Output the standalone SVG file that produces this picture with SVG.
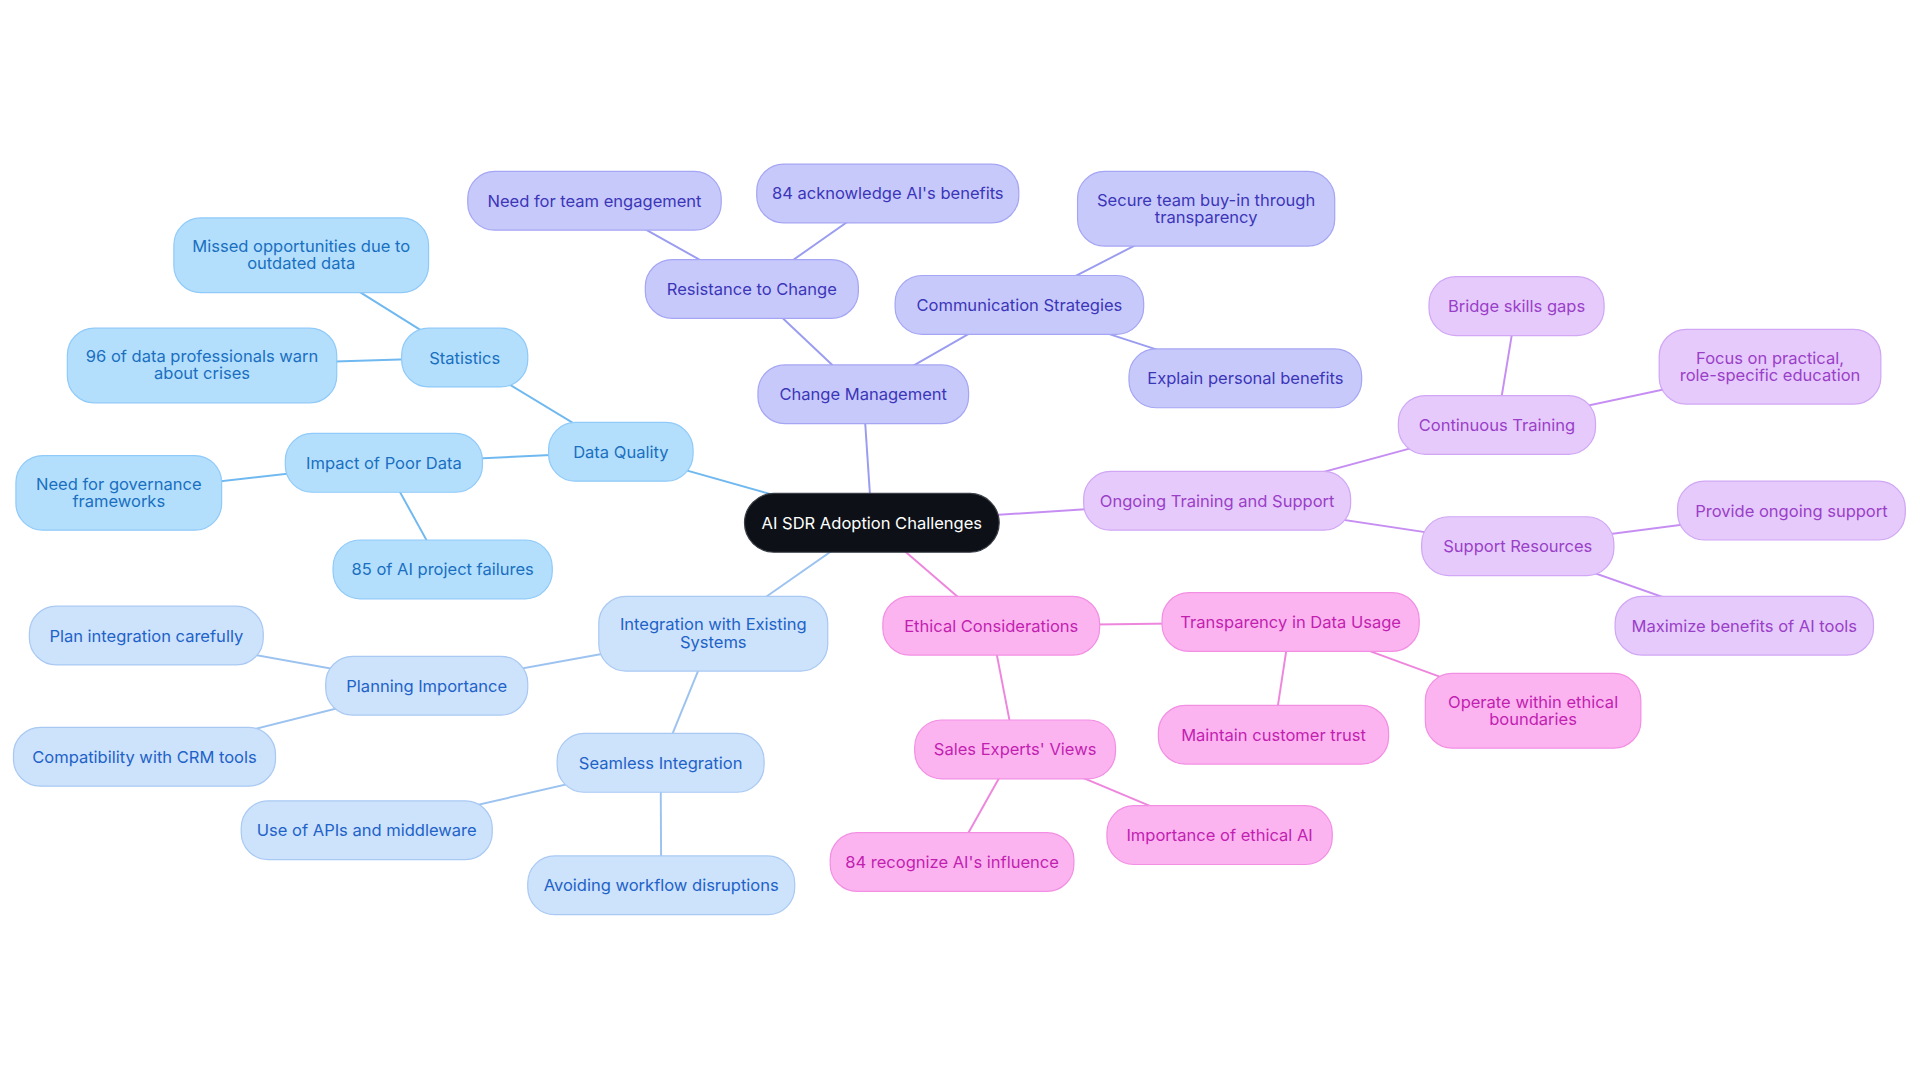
<svg xmlns="http://www.w3.org/2000/svg" width="1920" height="1083" viewBox="0 0 1920 1083">
<style>
text{font-family:Inter,"Liberation Sans",sans-serif;font-size:13.5px;text-anchor:middle;dominant-baseline:central}
line{stroke-width:1.6}
.b rect{fill:#b3dffd;stroke:#90caf9}.b text{fill:#1a6fc0}
.l rect{fill:#cde2fb;stroke:#a9c9f3}.l text{fill:#1e63c8}
.p rect{fill:#c8c9fb;stroke:#a5a6f3}.p text{fill:#3b36b8}
.v rect{fill:#e6cafb;stroke:#d0a6f5}.v text{fill:#9a3fc8}
.k rect{fill:#fcb4f1;stroke:#f28fe3}.k text{fill:#c21fb0}
.lb{stroke:#6fb8f0}.ll{stroke:#9cc3f0}.lp{stroke:#9a9cf0}.lv{stroke:#c68ef2}.lk{stroke:#ee86dd}
</style>
<rect width="1920" height="1083" fill="#fff"/>
<g transform="scale(1.2245)">
<g id="connectors">
<line class="lb" x1="712" y1="427" x2="507" y2="369"/>
<line class="lb" x1="507" y1="369" x2="379.5" y2="292"/>
<line class="lb" x1="379.5" y1="292" x2="246" y2="208.5"/>
<line class="lb" x1="379.5" y1="292" x2="165" y2="298.5"/>
<line class="lb" x1="507" y1="369" x2="313.5" y2="378"/>
<line class="lb" x1="313.5" y1="378" x2="97" y2="402.5"/>
<line class="lb" x1="313.5" y1="378" x2="361.5" y2="465"/>
<line class="lp" x1="712" y1="427" x2="705" y2="322"/>
<line class="lp" x1="705" y1="322" x2="614" y2="236"/>
<line class="lp" x1="614" y1="236" x2="485.5" y2="164"/>
<line class="lp" x1="614" y1="236" x2="725" y2="158"/>
<line class="lp" x1="705" y1="322" x2="832.5" y2="249"/>
<line class="lp" x1="832.5" y1="249" x2="985" y2="170.5"/>
<line class="lp" x1="832.5" y1="249" x2="1017" y2="309"/>
<line class="lv" x1="712" y1="427" x2="994" y2="409"/>
<line class="lv" x1="994" y1="409" x2="1222.5" y2="347"/>
<line class="lv" x1="1222.5" y1="347" x2="1238.5" y2="250"/>
<line class="lv" x1="1222.5" y1="347" x2="1445.5" y2="299.5"/>
<line class="lv" x1="994" y1="409" x2="1239.5" y2="446"/>
<line class="lv" x1="1239.5" y1="446" x2="1463" y2="417"/>
<line class="lv" x1="1239.5" y1="446" x2="1424.5" y2="511"/>
<line class="lk" x1="712" y1="427" x2="809.5" y2="511"/>
<line class="lk" x1="809.5" y1="511" x2="1054" y2="508"/>
<line class="lk" x1="1054" y1="508" x2="1040" y2="600"/>
<line class="lk" x1="1054" y1="508" x2="1252" y2="580.5"/>
<line class="lk" x1="809.5" y1="511" x2="829" y2="612"/>
<line class="lk" x1="829" y1="612" x2="996" y2="682"/>
<line class="lk" x1="829" y1="612" x2="777.5" y2="704"/>
<line class="ll" x1="712" y1="427" x2="582.5" y2="517.5"/>
<line class="ll" x1="582.5" y1="517.5" x2="348.5" y2="560"/>
<line class="ll" x1="348.5" y1="560" x2="119.5" y2="519"/>
<line class="ll" x1="348.5" y1="560" x2="118" y2="618"/>
<line class="ll" x1="582.5" y1="517.5" x2="539.5" y2="623"/>
<line class="ll" x1="539.5" y1="623" x2="299.5" y2="678"/>
<line class="ll" x1="539.5" y1="623" x2="540" y2="723"/>
</g>
<g id="center"><rect x="608" y="403" width="208" height="48" rx="24" fill="#0d1117" stroke="#3a3f47"/><text x="712" y="427" fill="#fff">AI SDR Adoption Challenges</text></g>
<g id="dq" class="b"><rect x="448" y="345" width="118" height="48" rx="22"/><text x="507" y="369">Data Quality</text></g>
<g id="st" class="b"><rect x="328" y="268" width="103" height="48" rx="22"/><text x="379.5" y="292">Statistics</text></g>
<g id="missed" class="b"><rect x="142" y="178" width="208" height="61" rx="22"/><text x="246" y="201">Missed opportunities due to</text><text x="246" y="215">outdated data</text></g>
<g id="n96" class="b"><rect x="55" y="268" width="220" height="61" rx="22"/><text x="165" y="291">96 of data professionals warn</text><text x="165" y="305">about crises</text></g>
<g id="ipd" class="b"><rect x="233" y="354" width="161" height="48" rx="22"/><text x="313.5" y="378">Impact of Poor Data</text></g>
<g id="gov" class="b"><rect x="13" y="372" width="168" height="61" rx="22"/><text x="97" y="395">Need for governance</text><text x="97" y="409">frameworks</text></g>
<g id="n85" class="b"><rect x="272" y="441" width="179" height="48" rx="22"/><text x="361.5" y="465">85 of AI project failures</text></g>
<g id="cm" class="p"><rect x="619" y="298" width="172" height="48" rx="22"/><text x="705" y="322">Change Management</text></g>
<g id="rc" class="p"><rect x="527" y="212" width="174" height="48" rx="22"/><text x="614" y="236">Resistance to Change</text></g>
<g id="nte" class="p"><rect x="382" y="140" width="207" height="48" rx="22"/><text x="485.5" y="164">Need for team engagement</text></g>
<g id="n84a" class="p"><rect x="618" y="134" width="214" height="48" rx="22"/><text x="725" y="158">84 acknowledge AI's benefits</text></g>
<g id="cs" class="p"><rect x="731" y="225" width="203" height="48" rx="22"/><text x="832.5" y="249">Communication Strategies</text></g>
<g id="stb" class="p"><rect x="880" y="140" width="210" height="61" rx="22"/><text x="985" y="163">Secure team buy-in through</text><text x="985" y="177">transparency</text></g>
<g id="epb" class="p"><rect x="922" y="285" width="190" height="48" rx="22"/><text x="1017" y="309">Explain personal benefits</text></g>
<g id="ots" class="v"><rect x="885" y="385" width="218" height="48" rx="22"/><text x="994" y="409">Ongoing Training and Support</text></g>
<g id="ct" class="v"><rect x="1142" y="323" width="161" height="48" rx="22"/><text x="1222.5" y="347">Continuous Training</text></g>
<g id="bsg" class="v"><rect x="1167" y="226" width="143" height="48" rx="22"/><text x="1238.5" y="250">Bridge skills gaps</text></g>
<g id="fp" class="v"><rect x="1355" y="269" width="181" height="61" rx="22"/><text x="1445.5" y="292">Focus on practical,</text><text x="1445.5" y="306">role-specific education</text></g>
<g id="sr" class="v"><rect x="1161" y="422" width="157" height="48" rx="22"/><text x="1239.5" y="446">Support Resources</text></g>
<g id="pos" class="v"><rect x="1370" y="393" width="186" height="48" rx="22"/><text x="1463" y="417">Provide ongoing support</text></g>
<g id="mb" class="v"><rect x="1319" y="487" width="211" height="48" rx="22"/><text x="1424.5" y="511">Maximize benefits of AI tools</text></g>
<g id="ec" class="k"><rect x="721" y="487" width="177" height="48" rx="22"/><text x="809.5" y="511">Ethical Considerations</text></g>
<g id="tdu" class="k"><rect x="949" y="484" width="210" height="48" rx="22"/><text x="1054" y="508">Transparency in Data Usage</text></g>
<g id="mct" class="k"><rect x="946" y="576" width="188" height="48" rx="22"/><text x="1040" y="600">Maintain customer trust</text></g>
<g id="owe" class="k"><rect x="1164" y="550" width="176" height="61" rx="22"/><text x="1252" y="573">Operate within ethical</text><text x="1252" y="587">boundaries</text></g>
<g id="sev" class="k"><rect x="747" y="588" width="164" height="48" rx="22"/><text x="829" y="612">Sales Experts' Views</text></g>
<g id="iea" class="k"><rect x="904" y="658" width="184" height="48" rx="22"/><text x="996" y="682">Importance of ethical AI</text></g>
<g id="n84r" class="k"><rect x="678" y="680" width="199" height="48" rx="22"/><text x="777.5" y="704">84 recognize AI's influence</text></g>
<g id="ies" class="l"><rect x="489" y="487" width="187" height="61" rx="22"/><text x="582.5" y="510">Integration with Existing</text><text x="582.5" y="524">Systems</text></g>
<g id="pi" class="l"><rect x="266" y="536" width="165" height="48" rx="22"/><text x="348.5" y="560">Planning Importance</text></g>
<g id="pic" class="l"><rect x="24" y="495" width="191" height="48" rx="22"/><text x="119.5" y="519">Plan integration carefully</text></g>
<g id="crm" class="l"><rect x="11" y="594" width="214" height="48" rx="22"/><text x="118" y="618">Compatibility with CRM tools</text></g>
<g id="si" class="l"><rect x="455" y="599" width="169" height="48" rx="22"/><text x="539.5" y="623">Seamless Integration</text></g>
<g id="api" class="l"><rect x="197" y="654" width="205" height="48" rx="22"/><text x="299.5" y="678">Use of APIs and middleware</text></g>
<g id="awd" class="l"><rect x="431" y="699" width="218" height="48" rx="22"/><text x="540" y="723">Avoiding workflow disruptions</text></g>
</g>
</svg>
